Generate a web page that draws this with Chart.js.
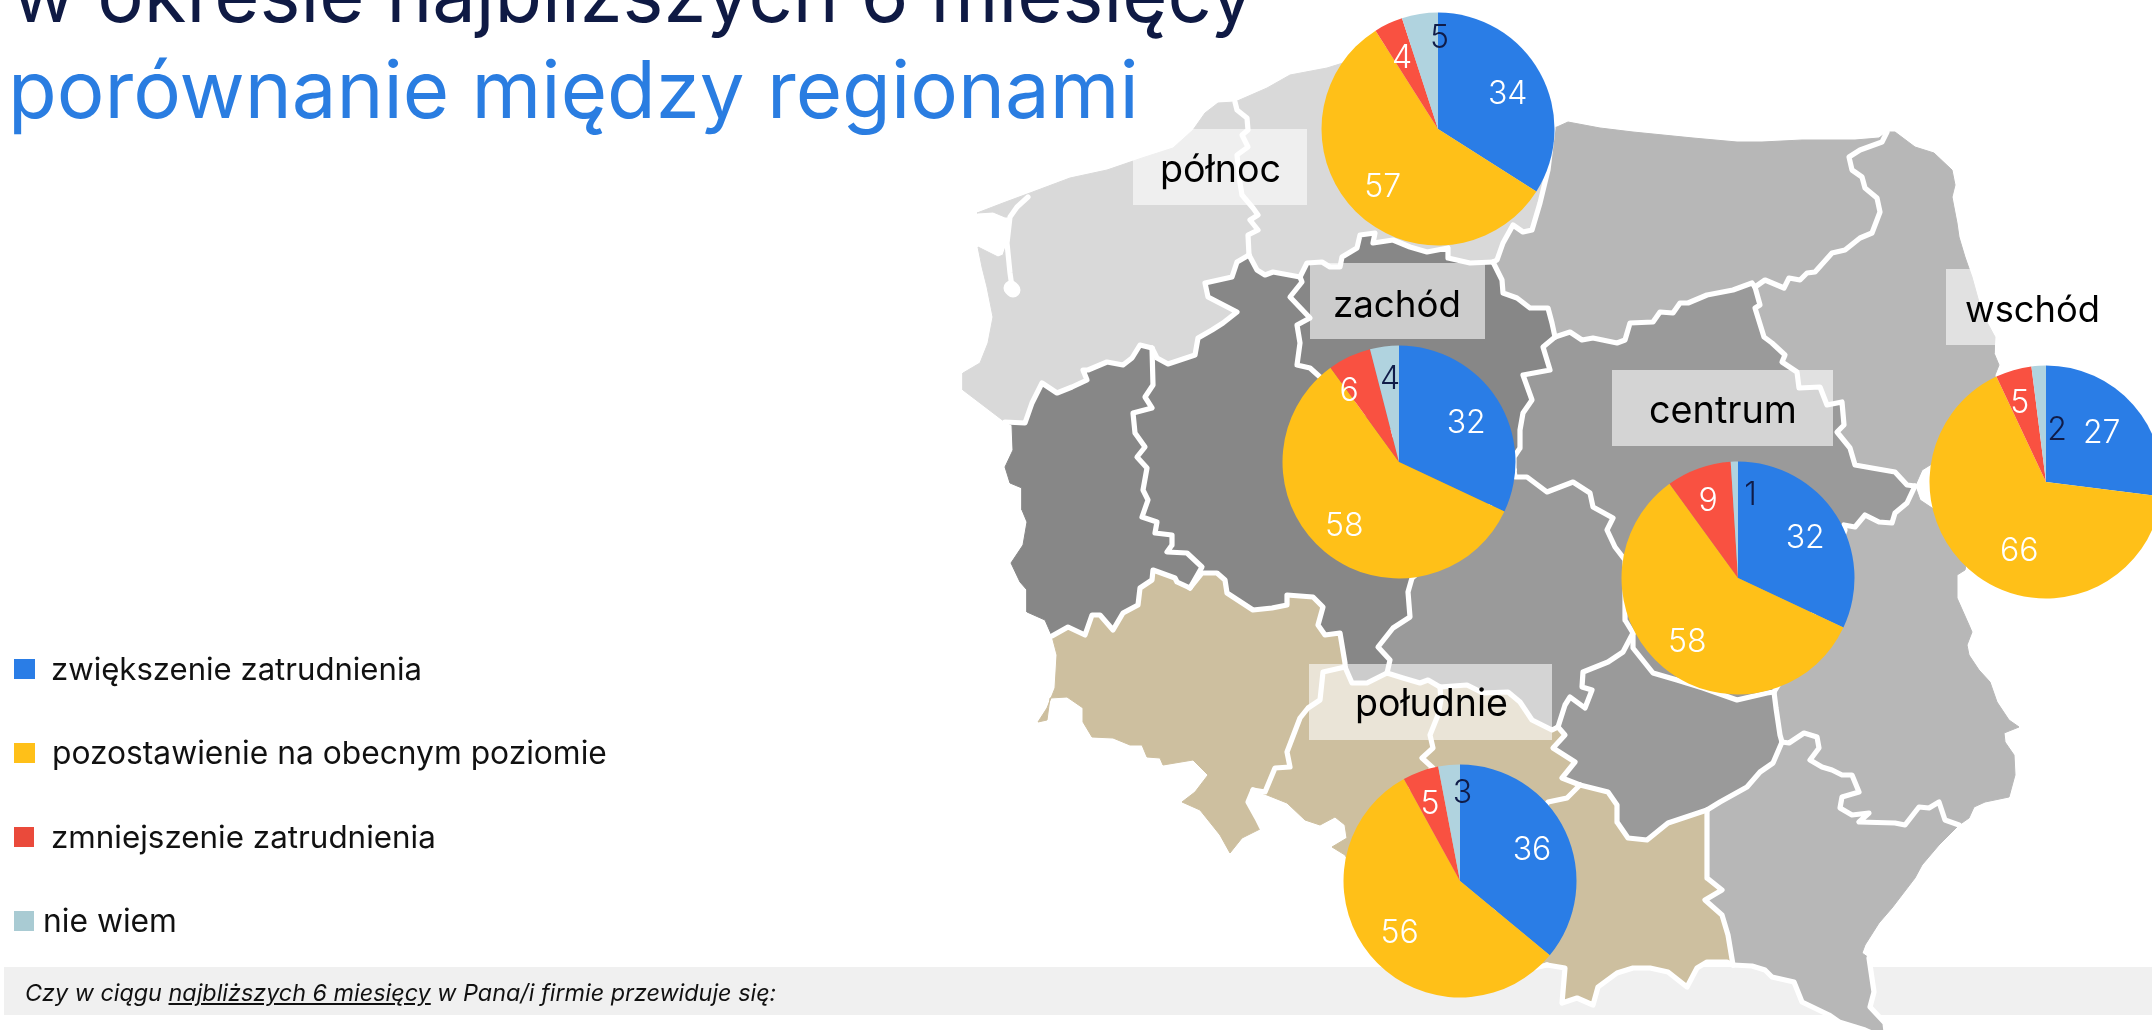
<!DOCTYPE html>
<html lang="pl"><head><meta charset="utf-8">
<script src="https://cdn.jsdelivr.net/npm/chart.js@4/dist/chart.umd.min.js"></script>
<style>
html,body{margin:0;padding:0;background:#fff;width:2152px;height:1030px;overflow:hidden;position:relative}
canvas{position:absolute}
.box{position:absolute;background:rgba(255,255,255,.58)}
.band{position:absolute;left:4px;right:0;top:967px;height:48px;background:#f0f0f0}
.sw{position:absolute}
.t{position:absolute;height:120px;line-height:0;white-space:nowrap;font-family:Inter,sans-serif}
.t i.s{display:inline-block;height:100%;width:0}
</style></head><body>
<div class="band"></div>
<canvas id="map" width="2152" height="1030" style="left:0;top:0"></canvas>
<div id="over"></div>
<script>
// ---------- chart values ----------
const seriesNames=["zwiększenie zatrudnienia","pozostawienie na obecnym poziomie","zmniejszenie zatrudnienia","nie wiem"];
const regionNames=["północ","zachód","centrum","wschód","południe"];
const polnoc=[34,57,4,5];
const zachod=[32,58,6,4];
const centrum=[32,58,9,1];
const wschod=[27,66,5,2];
const poludnie=[36,56,5,3];
const titleLine1="w okresie najbliższych 6 miesięcy";
const titleLine2="porównanie między regionami";

// ---------- styles / layout ----------
const pieColors=["#2a7de6","#ffc018","#f95141","#b0d3df"];
const legendColors=["#2a7de6","#ffc018","#ea4a3b","#a9cbd3"];
const numColors=["#fff","#fff","#fff","#101c48"];
const pieSpots=[[1438,129],[1399,462],[1738,578],[2046,482],[1460,881]];
const labelNudges=[
 [[0,3],[1,1],[-2,0],[14,-13]],
 [[0,3],[-4,2],[-16,0],[1,-5]],
 [[0,2],[0,2],[-3,-3],[15,-4]],
 [[-4,3],[20,4],[-4,-3],[16,27]],
 [[0,2],[1,1],[-3,-3],[10,-9]]];
const boxes=[[1133,129,174,76],[1310,263,175,76],[1612,370,221,76],[1946,269,174,76],[1309,664,243,76]];
const regionText=[[1160,182,121],[1333,317,128],[1649,423,148],[1965,322,135],[1355,716,153]];
const legendRows=[[14,659,21,51,680,371],[14,743,21,52,764,555],[14,827,20,51,848,385],[14,911,20,43,932,134]];

// ---------- map outline (regional borders, traced) ----------
const zpPom=[[1235,102],[1237,110],[1247,118],[1248,130],[1242,135],[1248,147],[1237,155],[1240,183],[1242,195],[1253,208],[1258,215],[1250,220],[1258,230],[1248,235],[1249,255]];
const zpCoast=[[1235,102],[1218,103],[1205,113],[1193,130],[1173,148],[1142,158],[1107,170],[1070,178],[1030,193],[1003,203],[977,213],[993,212],[1005,217],[1010,217],[1007,243],[1003,255],[998,257],[978,247],[982,267],[987,287],[993,317],[988,343],[980,363],[963,373],[963,390],[1005,422]];
const zpLagoon=[[1028,197],[1017,207],[1010,217],[1007,243],[1010,273],[1012,287]];
const zpLagoonEnd=[[1011,288],[1013,290]];
const zpLub=[[1152,348],[1140,345],[1132,358],[1123,365],[1107,362],[1088,370],[1083,370],[1087,380],[1072,387],[1057,393],[1042,383],[1032,403],[1025,423],[1005,422]];
const zpWiel=[[1249,255],[1237,262],[1232,277],[1205,283],[1208,297],[1237,312],[1223,323],[1212,330],[1198,338],[1195,355],[1168,364],[1157,358],[1152,348]];
const pomCoast=[[1235,102],[1267,88],[1290,75],[1327,68],[1343,63],[1360,50],[1420,45],[1480,80],[1530,110],[1553,128]];
const pomWarm=[[1553,128],[1548,170],[1540,203],[1532,230],[1523,232],[1513,225],[1503,243],[1497,260],[1493,262]];
const pomWiel=[[1249,255],[1257,270],[1265,275],[1273,272],[1300,277]];
const pomKuj=[[1300,277],[1307,263],[1322,262],[1330,267],[1340,267],[1342,257],[1357,248],[1360,235],[1375,233],[1373,243],[1393,240],[1410,247],[1427,252],[1448,248],[1448,258],[1470,263],[1493,262]];
const kujWiel=[[1300,277],[1302,282],[1290,297],[1310,318],[1297,325],[1300,343],[1297,365],[1310,368],[1320,377],[1400,440],[1514,470]];
const kujWarm=[[1493,262],[1502,280],[1503,293],[1517,298],[1530,308],[1548,308],[1552,323],[1555,337]];
const kujMaz=[[1555,337],[1543,347],[1550,370],[1523,375],[1532,400],[1523,413],[1520,430],[1520,448],[1514,457],[1514,470]];
const mazWarm=[[1555,337],[1570,332],[1582,340],[1593,338],[1617,343],[1625,340],[1630,323],[1653,322],[1660,312],[1673,313],[1680,303],[1688,303],[1707,295],[1733,290],[1752,283],[1755,287]];
const warmNorth=[[1553,128],[1557,127],[1568,122],[1600,128],[1633,132],[1693,138],[1737,142],[1762,142],[1802,140],[1855,140],[1879,138],[1887,132]];
const warmPod=[[1755,287],[1765,280],[1784,288],[1789,278],[1800,280],[1807,273],[1815,272],[1832,253],[1845,250],[1860,238],[1872,233],[1880,212],[1877,198],[1865,188],[1862,177],[1852,170],[1849,157],[1860,150],[1882,142],[1887,132]];
const podEast=[[1887,132],[1895,132],[1915,147],[1934,153],[1952,170],[1955,185],[1952,197],[1957,223],[1959,237],[1965,257],[1972,277],[1982,313],[1995,337],[1994,353],[1999,365],[1995,375],[2000,440],[1975,490],[1935,462],[1922,470],[1915,486]];
const mazPod=[[1755,287],[1760,305],[1755,308],[1764,337],[1772,343],[1785,355],[1782,362],[1797,372],[1799,388],[1820,387],[1827,405],[1842,402],[1844,425],[1837,432],[1850,448],[1855,465],[1872,468],[1895,472],[1907,485],[1915,486]];
const mazLub=[[1915,486],[1907,503],[1895,513],[1892,523],[1879,522],[1865,515],[1855,527],[1844,525],[1845,530],[1800,650],[1774,692]];
const swTop=[[1774,692],[1767,693],[1737,700],[1703,688],[1677,680],[1653,673],[1633,648],[1633,633]];
const mazLod=[[1514,470],[1515,477],[1527,477],[1547,492],[1573,482],[1590,493],[1593,507],[1613,518],[1607,530],[1615,547],[1625,560],[1625,620],[1633,633]];
const swLod=[[1633,633],[1623,652],[1608,662],[1583,672],[1582,687],[1592,690],[1585,708],[1570,697],[1565,705],[1558,727]];
const swSl=[[1558,727],[1565,735],[1553,748],[1575,762],[1562,778],[1580,785]];
const swMal=[[1580,785],[1608,792],[1617,805],[1617,822],[1628,838],[1647,840],[1668,823],[1707,810]];
const swPod=[[1707,810],[1720,802],[1747,787],[1760,772],[1773,763],[1782,742]];
const swLub=[[1782,742],[1780,735],[1776,708],[1774,692]];
const lubPod=[[1782,742],[1789,743],[1804,733],[1817,737],[1819,748],[1810,760],[1822,767],[1832,770],[1842,775],[1852,775],[1859,792],[1842,797],[1840,808],[1852,815],[1869,813],[1859,822],[1895,823],[1905,825],[1919,807],[1929,808],[1939,802],[1945,820],[1959,825]];
const lubEast=[[1959,825],[1969,818],[1974,807],[1985,802],[2009,797],[2015,775],[2014,755],[2005,742],[2004,733],[2019,727],[2009,720],[1997,702],[1990,682],[1979,670],[1969,655],[1967,645],[1972,632],[1969,625],[1957,598],[1957,575],[1965,570],[1975,520],[1935,510],[1920,500],[1915,486]];
const podkSE=[[1959,825],[1939,845],[1922,865],[1915,878],[1892,908],[1879,923],[1865,945],[1862,953],[1869,958]];
const podkTail=[[1869,958],[1874,992],[1870,1007],[1885,1023],[1887,1040]];
const podkS=[[1733,965],[1752,966],[1765,970],[1772,977],[1794,982],[1802,1002],[1829,1015],[1839,1022],[1865,1030],[1887,1040]];
const malPod=[[1707,810],[1707,835],[1707,878],[1722,890],[1705,900],[1722,915],[1728,935],[1733,965]];
const malSouth=[[1733,965],[1727,962],[1707,962],[1697,968],[1687,987],[1668,972],[1650,968],[1633,968],[1617,973],[1598,987],[1593,1005],[1577,998],[1562,1003],[1565,968],[1547,965]];
const malSl=[[1547,965],[1480,980],[1500,880],[1548,802],[1567,798],[1580,785]];
const lodOp=[[1387,673],[1403,678],[1420,683],[1428,680],[1440,687]];
const lodSl=[[1440,687],[1467,685],[1483,693],[1508,692],[1520,702],[1532,720],[1552,730],[1558,727]];
const wielLod=[[1514,470],[1480,520],[1412,578],[1408,592],[1410,617],[1393,628],[1378,647],[1390,660],[1387,673]];
const wielOp=[[1345,667],[1352,683],[1367,683],[1387,673]];
const opSl=[[1440,687],[1441,700],[1438,715],[1430,735],[1433,748],[1422,758],[1433,768],[1360,830]];
const dolOp1=[[1345,667],[1323,672],[1320,700],[1308,708],[1300,718],[1287,752],[1290,767],[1275,768],[1265,792],[1253,790]];
const dolOp2=[[1253,790],[1248,802],[1258,820],[1262,828]];
const opSouth=[[1253,790],[1267,795],[1287,803],[1305,820],[1320,825],[1335,817],[1345,825],[1347,838],[1360,830]];
const slSouth=[[1547,965],[1480,980],[1370,900],[1345,855],[1332,847],[1347,838],[1360,830]];
const dolTop1=[[1052,636],[1068,627],[1085,635],[1092,615],[1100,615],[1113,630],[1123,613],[1138,605],[1140,588],[1152,580],[1153,570],[1175,578],[1177,582],[1190,588]];
const dolTop2=[[1190,588],[1202,573],[1217,573],[1225,580],[1227,593],[1253,610],[1272,608],[1287,605],[1287,595],[1313,597],[1323,607],[1318,625],[1325,635],[1340,633],[1345,663],[1345,667]];
const lubWiel=[[1152,348],[1153,385],[1145,397],[1152,408],[1133,413],[1135,433],[1145,447],[1137,457],[1147,468],[1143,490],[1148,500],[1142,517],[1157,522],[1155,533],[1172,535],[1172,545],[1167,552],[1187,553],[1202,567],[1190,588]];
const westOut=[[1005,422],[1012,425],[1013,450],[1005,467],[1010,483],[1022,488],[1022,510],[1027,522],[1023,545],[1011,563],[1020,582],[1027,590],[1027,612],[1045,620],[1052,636]];
const dolSouth=[[1052,636],[1057,655],[1055,688],[1047,708],[1038,722],[1047,720],[1050,698],[1067,697],[1083,708],[1083,722],[1092,737],[1113,738],[1130,745],[1142,745],[1147,757],[1160,758],[1163,765],[1193,760],[1208,775],[1195,792],[1182,802],[1200,810],[1220,835],[1230,853],[1242,838],[1262,828]];

const rev=a=>[...a].reverse();
const NORTH="#d9d9d9",WEST="#878787",CENTRE="#9a9a9a",EAST="#b7b7b7",SOUTH="#cdbf9f";
const provinces=[
 [NORTH,[zpCoast,rev(zpLub),rev(zpWiel),rev(zpPom)]],
 [NORTH,[pomCoast,pomWarm,rev(pomKuj),rev(pomWiel),zpPom]],
 [WEST,[zpLub,westOut,dolTop1,rev(lubWiel)]],
 [WEST,[zpWiel,lubWiel,dolTop2,wielOp,rev(wielLod),rev(kujWiel),rev(pomWiel)]],
 [WEST,[pomKuj,kujWarm,kujMaz,rev(kujWiel)]],
 [EAST,[warmNorth,rev(warmPod),rev(mazWarm),rev(kujWarm),rev(pomWarm)]],
 [EAST,[podEast,rev(mazPod),warmPod]],
 [EAST,[mazLub,rev(swLub),lubPod,lubEast]],
 [EAST,[lubPod,podkSE,podkTail,rev(podkS),rev(malPod),swPod]],
 [CENTRE,[mazWarm,mazPod,mazLub,swTop,rev(mazLod),rev(kujMaz)]],
 [CENTRE,[mazLod,swLod,rev(lodSl),rev(lodOp),rev(wielLod)]],
 [CENTRE,[swLod,swSl,swMal,swPod,swLub,swTop]],
 [SOUTH,[swMal,malPod,malSouth,malSl]],
 [SOUTH,[lodSl,swSl,rev(malSl),slSouth,rev(opSl)]],
 [SOUTH,[wielOp,lodOp,opSl,rev(opSouth),rev(dolOp1)]],
 [SOUTH,[dolTop2,dolOp1,dolOp2,rev(dolSouth),dolTop1]]
];
const whiteLines=[zpPom,zpLub,zpWiel,zpLagoon,pomWarm,pomWiel,pomKuj,kujWiel,kujWarm,kujMaz,mazWarm,warmPod,mazPod,mazLub,swTop,mazLod,swLod,swSl,swMal,swPod,swLub,lubPod,malPod,lodOp,lodSl,wielLod,wielOp,opSl,dolOp1,dolOp2,dolTop1,dolTop2,lubWiel,malSl,malSouth,podkS,podkTail];

const toPts=a=>a.map(([x,y])=>({x,y}));
const lineSets=whiteLines.map(l=>({data:toPts(l),showLine:true,fill:false,borderColor:'#fff',borderWidth:5.2,borderJoinStyle:'round',borderCapStyle:'round',pointRadius:0,tension:0,clip:false}));
lineSets.push({data:toPts(zpLagoonEnd),showLine:true,fill:false,borderColor:'#fff',borderWidth:15,borderCapStyle:'round',pointRadius:0,tension:0,clip:false});
const fillSets=provinces.map(([c,parts])=>{
  const pts=toPts(parts.flat());pts.push(pts[0]);
  return {data:pts,showLine:true,fill:'shape',backgroundColor:c,borderColor:c,borderWidth:1,borderJoinStyle:'round',pointRadius:0,tension:0,clip:false};
});
new Chart(document.getElementById('map'),{
 type:'scatter',
 data:{datasets:[...lineSets,...fillSets]},
 options:{responsive:false,animation:false,devicePixelRatio:1,
  layout:{padding:0},
  plugins:{legend:{display:false},tooltip:{enabled:false}},
  scales:{x:{type:'linear',display:false,min:0,max:2152},y:{type:'linear',display:false,min:0,max:1030,reverse:true}}}
});

// ---------- overlay HTML ----------
const over=document.getElementById('over');
function addBox(b){const d=document.createElement('div');d.className='box';
 d.style.cssText=`left:${b[0]}px;top:${b[1]}px;width:${b[2]}px;height:${b[3]}px`;over.appendChild(d);}
boxes.forEach(addBox);

// ---------- pies ----------
const values=[polnoc,zachod,centrum,wschod,poludnie];
const CANVAS=240;
values.forEach((vals,pi)=>{
 const cv=document.createElement('canvas');cv.width=CANVAS;cv.height=CANVAS;
 cv.style.left=(pieSpots[pi][0]-CANVAS/2)+'px';cv.style.top=(pieSpots[pi][1]-CANVAS/2)+'px';
 document.body.appendChild(cv);
 new Chart(cv,{type:'pie',
  data:{labels:seriesNames,datasets:[{data:vals,backgroundColor:pieColors,borderWidth:0}]},
  options:{responsive:false,animation:false,devicePixelRatio:1,layout:{padding:3.5},
   plugins:{legend:{display:false},tooltip:{enabled:false}}},
  plugins:[{id:'numbers',afterDatasetsDraw(chart){
    const ctx=chart.ctx;ctx.save();ctx.font='300 32px Inter, sans-serif';ctx.textAlign='center';ctx.textBaseline='middle';
    chart.getDatasetMeta(0).data.forEach((arc,i)=>{
     const mid=(arc.startAngle+arc.endAngle)/2,r=arc.outerRadius*0.683;
     ctx.fillStyle=numColors[i];
     ctx.fillText(String(vals[i]),arc.x+Math.cos(mid)*r+labelNudges[pi][i][0],arc.y+Math.sin(mid)*r+labelNudges[pi][i][1]+1);
    });ctx.restore();}}]
 });
});

// ---------- text ----------
function addText(html,x,base,w,size,color,extra){
 const d=document.createElement('div');d.className='t';
 d.style.cssText=`left:${x}px;top:${base-120}px;font-size:${size}px;color:${color};${extra||''}`;
 d.innerHTML='<i class="s"></i><span>'+html+'</span>';
 document.body.appendChild(d);
 const sp=d.querySelector('span');
 const k=w/sp.getBoundingClientRect().width;
 d.style.fontSize=(size*k)+'px';
}
addText(titleLine1,12,22,1242,75,'#0f1a44');
addText(titleLine2,8,118,1131,75,'#2a7de1');
regionNames.forEach((n,i)=>{const r=regionText[i];addText(n,r[0],r[1],r[2],32,'#000');});
seriesNames.forEach((n,i)=>{const r=legendRows[i];
 const s=document.createElement('div');s.className='sw';
 s.style.cssText=`left:${r[0]}px;top:${r[1]}px;width:${r[2]}px;height:20px;background:${legendColors[i]}`;
 document.body.appendChild(s);
 addText(n,r[3],r[4],r[5],30,'#111');});
addText('Czy w ciągu <u>najbliższych 6 miesięcy</u> w Pana/i firmie przewiduje się:',25,1001,752,24,'#111','font-style:italic;');
</script>
</body></html>
